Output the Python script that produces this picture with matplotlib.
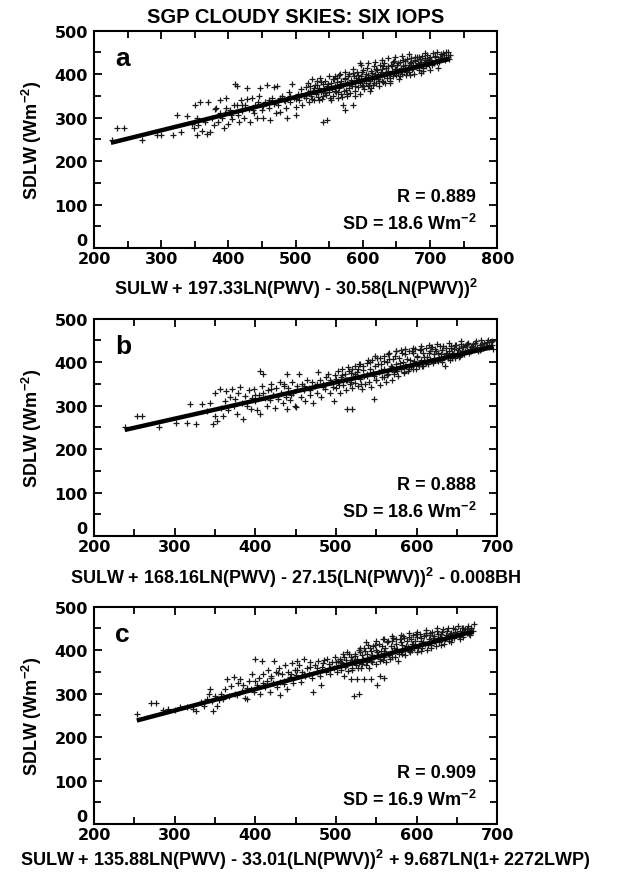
import numpy as np
import matplotlib.pyplot as plt
from matplotlib.ticker import MultipleLocator, FuncFormatter

# values (x = regression predictor, y = SDLW, W m-2)
a_points = [
    (226, 248), (234, 275), (244, 276), (271, 248), (293, 261), (300, 259), (317, 259), (323, 305),
    (338, 304), (330, 268), (345, 285), (348, 275), (350, 328), (353, 298), (353, 259), (355, 282),
    (358, 335), (360, 270), (365, 290), (368, 262), (370, 336), (373, 267), (376, 300), (378, 282),
    (380, 320), (382, 321), (385, 290), (387, 340), (390, 300), (393, 276), (395, 310), (397, 344),
    (400, 285), (402, 318), (405, 296), (408, 330), (410, 378), (412, 373), (414, 305), (416, 290),
    (418, 340), (420, 315), (423, 300), (425, 330), (427, 367), (430, 320), (432, 290), (435, 345),
    (438, 310), (440, 328), (443, 300), (445, 350), (447, 367), (450, 318), (452, 298), (455, 335),
    (457, 375), (460, 322), (462, 294), (465, 345), (467, 371), (470, 310), (472, 373), (474, 330),
    (477, 313), (480, 350), (482, 340), (485, 322), (487, 298), (490, 360), (492, 335), (495, 378),
    (497, 345), (500, 325), (501, 305), (503, 355), (505, 340), (508, 365), (510, 330), (512, 350),
    (515, 370), (516, 345), (518, 380), (519, 360), (520, 335), (522, 372), (523, 350), (525, 388),
    (526, 362), (527, 340), (529, 375), (530, 355), (531, 385), (533, 348), (534, 368), (536, 392),
    (537, 358), (539, 343), (540, 378), (541, 290), (542, 365), (544, 385), (545, 352), (546, 294),
    (547, 372), (549, 360), (550, 395), (551, 345), (553, 380), (554, 366), (556, 350), (557, 390),
    (558, 372), (560, 358), (561, 382), (563, 345), (564, 398), (565, 368), (567, 355), (568, 385),
    (570, 375), (571, 330), (572, 362), (573, 317), (574, 392), (576, 350), (577, 380), (579, 368),
    (580, 400), (581, 357), (583, 386), (584, 372), (586, 330), (587, 395), (588, 362), (589, 380),
    (591, 405), (592, 370), (594, 388), (595, 355), (596, 425), (597, 395), (599, 376), (600, 410),
    (601, 365), (603, 392), (604, 380), (606, 415), (607, 372), (608, 398), (610, 385), (611, 362),
    (612, 408), (614, 392), (615, 375), (617, 418), (618, 400), (619, 380), (621, 410), (622, 390),
    (624, 372), (625, 420), (626, 398), (628, 385), (629, 412), (631, 395), (632, 425), (633, 380),
    (635, 405), (636, 392), (638, 418), (639, 400), (641, 385), (642, 422), (643, 408), (645, 395),
    (646, 430), (648, 412), (649, 398), (651, 420), (652, 405), (654, 390), (655, 428), (656, 415),
    (658, 400), (659, 432), (661, 410), (662, 422), (664, 398), (665, 435), (667, 415), (668, 405),
    (670, 425), (671, 438), (673, 412), (674, 420), (676, 400), (677, 432), (679, 418), (680, 440),
    (682, 425), (683, 410), (685, 435), (686, 420), (688, 442), (689, 408), (691, 428), (692, 438),
    (694, 418), (695, 445), (697, 430), (698, 422), (700, 440), (702, 432), (704, 448), (706, 425),
    (708, 440), (710, 452), (712, 435), (714, 428), (716, 446), (718, 438), (720, 444), (722, 432),
    (724, 450), (726, 440), (728, 436), (730, 445),
    (521, 362), (524, 343), (528, 368), (532, 376), (535, 340), (538, 382), (543, 356), (548, 378),
    (552, 371), (555, 388), (559, 362), (562, 392), (566, 378), (569, 348), (573, 388), (575, 364),
    (578, 396), (582, 378), (585, 403), (588, 372), (590, 392), (593, 398), (596, 380), (598, 406),
    (602, 386), (605, 400), (609, 376), (613, 402), (616, 388), (620, 412), (623, 398), (627, 405),
    (630, 382), (634, 415), (637, 408), (640, 392), (644, 418), (647, 402), (650, 412), (653, 425),
    (657, 408), (660, 418), (663, 430), (666, 405), (669, 420), (672, 428), (675, 415), (678, 430),
    (681, 418), (684, 440), (687, 428), (690, 415), (693, 432), (696, 425), (699, 435), (703, 420),
    (707, 442), (711, 428), (715, 440), (719, 448), (723, 438), (727, 452), (558, 395), (566, 400),
    (574, 405), (585, 412), (597, 420), (607, 425), (618, 428), (628, 432), (638, 438), (648, 440),
    (658, 442), (668, 446), (600, 372), (612, 368), (624, 385), (640, 380), (655, 395), (670, 398),
    (686, 402), (700, 410), (712, 415), (540, 350), (552, 340), (563, 360), (577, 355), (588, 350),
    (617, 380), (630, 418), (645, 428), (677, 440), (692, 448), (420, 330), (428, 342), (436, 318),
    (444, 335), (452, 326), (460, 340), (468, 332), (476, 345), (484, 338), (492, 350), (500, 342),
    (508, 352), (396, 322), (404, 305), (412, 330), (388, 310),
]
b_points = [
    (238, 250), (253, 275), (259, 277), (280, 250), (301, 261), (315, 261), (319, 304), (326, 258),
    (334, 304), (340, 288), (344, 307), (348, 258), (350, 277), (350, 330), (353, 265), (356, 338),
    (358, 295), (360, 277), (362, 310), (364, 334), (366, 290), (368, 320), (371, 338), (373, 300),
    (375, 315), (377, 281), (379, 330), (381, 342), (383, 305), (385, 269), (387, 322), (390, 300),
    (392, 335), (394, 292), (396, 318), (398, 338), (400, 310), (402, 290), (404, 325), (406, 380),
    (406, 281), (408, 345), (410, 372), (412, 318), (414, 300), (416, 335), (418, 312), (420, 350),
    (422, 325), (424, 295), (426, 340), (428, 315), (430, 355), (432, 330), (434, 305), (436, 345),
    (438, 320), (439, 372), (439, 292), (441, 340), (443, 312), (445, 355), (447, 330), (449, 300),
    (451, 296), (452, 345), (454, 372), (456, 320), (458, 350), (460, 335), (462, 310), (464, 360),
    (466, 340), (468, 325), (470, 355), (472, 307), (474, 345), (476, 330), (478, 378), (480, 360),
    (482, 320), (484, 350), (486, 338), (488, 365), (490, 372), (492, 330), (494, 355), (496, 342),
    (497, 311), (499, 370), (500, 340), (502, 380), (503, 355), (505, 330), (506, 365), (508, 385),
    (509, 348), (511, 372), (512, 335), (514, 360), (514, 292), (515, 388), (517, 350), (518, 375),
    (520, 292), (520, 340), (521, 365), (523, 390), (524, 352), (526, 378), (527, 345), (529, 395),
    (530, 362), (532, 338), (533, 382), (535, 368), (536, 350), (538, 398), (539, 372), (541, 355),
    (542, 385), (544, 342), (545, 405), (547, 315), (547, 368), (548, 390), (550, 358), (551, 410),
    (553, 378), (554, 348), (556, 395), (557, 365), (559, 415), (560, 385), (562, 355), (563, 400),
    (565, 372), (566, 420), (568, 390), (569, 360), (571, 408), (572, 378), (574, 425), (575, 395),
    (577, 368), (578, 410), (580, 385), (581, 428), (583, 400), (584, 375), (586, 418), (587, 392),
    (589, 380), (590, 425), (592, 405), (593, 388), (595, 420), (596, 398), (598, 430), (599, 385),
    (601, 412), (602, 395), (604, 428), (605, 405), (607, 390), (608, 422), (610, 400), (611, 432),
    (613, 412), (614, 395), (616, 425), (617, 408), (619, 435), (620, 398), (622, 418), (623, 430),
    (625, 405), (626, 422), (628, 410), (629, 436), (631, 400), (632, 428), (634, 415), (635, 392),
    (637, 432), (638, 418), (640, 425), (641, 405), (643, 438), (644, 420), (646, 430), (647, 410),
    (649, 440), (650, 422), (652, 432), (653, 412), (655, 442), (656, 425), (658, 435), (659, 418),
    (661, 440), (662, 428), (664, 445), (665, 420), (667, 435), (668, 428), (670, 442), (672, 432),
    (674, 448), (676, 425), (678, 440), (680, 450), (682, 432), (684, 445), (686, 438), (688, 452),
    (690, 435), (692, 446), (694, 440), (695, 430),
    (500, 362), (504, 348), (508, 370), (512, 360), (516, 380), (519, 355), (523, 372), (527, 385),
    (531, 350), (534, 392), (538, 368), (542, 400), (546, 378), (549, 360), (552, 395), (556, 382),
    (559, 402), (563, 370), (566, 408), (570, 388), (573, 415), (576, 380), (579, 398), (582, 420),
    (585, 392), (588, 408), (591, 385), (594, 425), (597, 402), (600, 415), (603, 390), (606, 430),
    (609, 412), (612, 398), (615, 420), (618, 435), (621, 410), (624, 425), (627, 402), (630, 418),
    (633, 438), (636, 422), (639, 410), (642, 432), (645, 418), (648, 440), (651, 428), (654, 415),
    (657, 438), (660, 425), (663, 442), (666, 430), (669, 438), (672, 445), (675, 435), (678, 428),
    (681, 442), (684, 436), (687, 446), (690, 440), (693, 448), (555, 410), (565, 418), (575, 425),
    (585, 430), (595, 432), (605, 438), (615, 440), (625, 442), (640, 445), (655, 448), (560, 365),
    (572, 372), (584, 378), (596, 385), (608, 392), (620, 400), (632, 405), (644, 410), (656, 418),
    (668, 425), (680, 430), (520, 385), (530, 395), (540, 405), (548, 415), (420, 338), (428, 322),
    (436, 350), (444, 325), (452, 338), (460, 345), (468, 335), (476, 350), (484, 342), (492, 358),
    (410, 330), (400, 325),
]
c_points = [
    (253, 253), (270, 278), (277, 278), (285, 262), (292, 265), (300, 263), (307, 268), (315, 270),
    (323, 265), (327, 261), (332, 280), (336, 272), (340, 288), (342, 300), (344, 311), (346, 282),
    (348, 261), (350, 295), (352, 272), (355, 285), (358, 300), (360, 288), (362, 310), (365, 334),
    (367, 295), (370, 318), (373, 338), (375, 300), (377, 296), (379, 325), (381, 334), (383, 305),
    (385, 319), (387, 290), (390, 288), (392, 330), (394, 310), (396, 345), (398, 304), (400, 380),
    (402, 320), (404, 335), (406, 300), (408, 374), (410, 345), (412, 315), (414, 330), (416, 355),
    (418, 304), (420, 340), (422, 325), (423, 376), (425, 350), (427, 315), (429, 360), (431, 327),
    (431, 296), (433, 345), (435, 330), (437, 365), (439, 311), (441, 350), (443, 338), (445, 370),
    (447, 325), (449, 355), (451, 342), (452, 376), (454, 365), (456, 327), (458, 350), (460, 380),
    (462, 340), (464, 360), (466, 345), (468, 372), (470, 335), (472, 304), (474, 365), (476, 350),
    (478, 375), (480, 340), (481, 319), (483, 362), (485, 378), (487, 350), (489, 380), (491, 368),
    (493, 345), (495, 372), (497, 358), (499, 385), (501, 350), (503, 375), (505, 380), (506, 355),
    (508, 370), (509, 390), (510, 341), (511, 362), (513, 378), (514, 395), (515, 352), (517, 372),
    (518, 333), (519, 385), (520, 360), (522, 294), (522, 375), (523, 392), (525, 365), (526, 333),
    (526, 380), (528, 298), (528, 400), (529, 370), (531, 358), (532, 388), (534, 375), (535, 333),
    (535, 405), (537, 418), (537, 365), (538, 392), (540, 380), (541, 360), (543, 333), (543, 398),
    (544, 375), (546, 410), (547, 385), (549, 368), (550, 400), (551, 319), (552, 388), (553, 415),
    (555, 341), (555, 375), (556, 398), (558, 425), (559, 337), (559, 385), (561, 405), (562, 372),
    (564, 420), (565, 392), (567, 380), (568, 410), (570, 398), (571, 428), (573, 385), (574, 415),
    (576, 402), (577, 375), (579, 425), (580, 395), (582, 412), (583, 432), (585, 400), (586, 388),
    (588, 420), (589, 408), (591, 430), (592, 395), (594, 415), (595, 435), (597, 405), (598, 422),
    (600, 395), (601, 430), (603, 412), (604, 438), (606, 420), (607, 405), (609, 432), (610, 415),
    (612, 440), (613, 400), (615, 425), (616, 435), (618, 412), (619, 442), (621, 420), (622, 432),
    (624, 410), (625, 445), (627, 428), (628, 418), (630, 438), (631, 425), (633, 448), (634, 415),
    (636, 435), (637, 428), (639, 450), (640, 420), (642, 440), (643, 432), (645, 452), (646, 428),
    (648, 442), (649, 435), (651, 455), (652, 432), (654, 445), (655, 438), (657, 450), (658, 430),
    (660, 448), (662, 440), (664, 455), (666, 442), (668, 450), (670, 445), (671, 460),
    (506, 372), (510, 385), (513, 365), (516, 392), (520, 378), (524, 386), (527, 360), (530, 395),
    (533, 380), (536, 398), (539, 372), (542, 405), (545, 388), (548, 412), (551, 395), (554, 380),
    (557, 410), (560, 398), (563, 418), (566, 388), (569, 420), (572, 405), (575, 425), (578, 392),
    (581, 418), (584, 428), (587, 410), (590, 398), (593, 425), (596, 415), (599, 438), (602, 405),
    (605, 428), (608, 418), (611, 435), (614, 412), (617, 440), (620, 428), (623, 420), (626, 438),
    (629, 430), (632, 442), (635, 425), (638, 445), (641, 436), (644, 428), (647, 448), (650, 440),
    (653, 432), (656, 450), (659, 442), (662, 448), (665, 438), (668, 452), (530, 405), (540, 412),
    (550, 420), (560, 425), (570, 432), (580, 435), (590, 440), (600, 442), (612, 446), (625, 450),
    (520, 355), (532, 368), (545, 372), (558, 378), (570, 385), (582, 392), (594, 400), (606, 398),
    (618, 405), (630, 412), (642, 418), (654, 425), (666, 435), (420, 335), (428, 348), (436, 322),
    (444, 345), (452, 355), (460, 345), (468, 362), (476, 358), (484, 370), (492, 360), (500, 372),
    (410, 325), (400, 330), (390, 312),
]

# regression line end points
a_fit = [(225, 242), (729, 435)]
b_fit = [(238, 244), (695, 435)]
c_fit = [(253, 238), (670, 443)]

letters = ['a', 'b', 'c']
x_limits = [(200, 800), (200, 700), (200, 700)]
r_text = ['R = 0.889', 'R = 0.888', 'R = 0.909']
sd_text = ['SD = 18.6 Wm$^{\\mathbf{-2}}$', 'SD = 18.6 Wm$^{\\mathbf{-2}}$', 'SD = 16.9 Wm$^{\\mathbf{-2}}$']
x_labels = [
    'SULW + 197.33LN(PWV) - 30.58(LN(PWV))$^{\\mathbf{2}}$',
    'SULW + 168.16LN(PWV) - 27.15(LN(PWV))$^{\\mathbf{2}}$ - 0.008BH',
    'SULW + 135.88LN(PWV) - 33.01(LN(PWV))$^{\\mathbf{2}}$ + 9.687LN(1+ 2272LWP)',
]

plt.rcParams['font.family'] = ['Liberation Sans', 'DejaVu Sans']
plt.rcParams['font.weight'] = 'bold'
plt.rcParams['mathtext.fontset'] = 'custom'
plt.rcParams['mathtext.rm'] = 'Liberation Sans:bold'
plt.rcParams['mathtext.bf'] = 'Liberation Sans:bold'

fig = plt.figure(figsize=(6.4, 8.78), dpi=100)

bottoms = [0.7164, 0.3884, 0.0604]
label_x = [0.4625, 0.4625, 0.477]
label_y = [0.6644, 0.335, 0.0135]

# y tick labels; the "0" is drawn separately, just above the corner
ylab_fmt = FuncFormatter(lambda v, pos: '' if v == 0 else '%d' % v)

data = [(a_points, a_fit), (b_points, b_fit), (c_points, c_fit)]
for i, (pts, fit) in enumerate(data):
    ax = fig.add_axes([0.147, bottoms[i], 0.630, 0.2475])
    pts = np.array(pts)
    fit = np.array(fit)
    ax.plot(pts[:, 0], pts[:, 1], '+', color='#1a1a1a', ms=5, mew=0.9)
    ax.plot(fit[:, 0], fit[:, 1], color='black', lw=3.2, solid_capstyle='butt')
    ax.set_xlim(*x_limits[i])
    ax.set_ylim(0, 500)
    ax.xaxis.set_major_locator(MultipleLocator(100))
    ax.xaxis.set_minor_locator(MultipleLocator(50))
    ax.yaxis.set_major_locator(MultipleLocator(100))
    ax.yaxis.set_minor_locator(MultipleLocator(50))
    ax.yaxis.set_major_formatter(ylab_fmt)
    ax.tick_params(which='both', direction='in', top=True, right=True, width=1.3)
    ax.tick_params(which='major', length=6, labelsize=11.5, labelfontfamily='DejaVu Sans')
    ax.tick_params(which='minor', length=5)
    ax.tick_params(axis='x', which='major', pad=2.5)
    ax.tick_params(axis='y', which='major', pad=4.5)
    ax.text(-0.016, 0, '0', transform=ax.get_yaxis_transform(), fontsize=11.5,
            family='DejaVu Sans', ha='right', va='bottom')
    for s in ax.spines.values():
        s.set_linewidth(1.5)
    ax.set_ylabel('SDLW (Wm$^{\\mathbf{-2}}$)', fontsize=13, fontweight='bold')
    ax.yaxis.set_label_coords(-0.125, 0.5)
    ax.text(0.052, 0.842, letters[i], transform=ax.transAxes, fontsize=19, va='baseline')
    ax.text(0.948, 0.218, r_text[i], transform=ax.transAxes, fontsize=13, ha='right', va='baseline')
    ax.text(0.948, 0.088, sd_text[i], transform=ax.transAxes, fontsize=13, ha='right', va='baseline')
    fig.text(label_x[i], label_y[i], x_labels[i], fontsize=13, ha='center', va='baseline')

fig.text(0.4625, 0.974, 'SGP CLOUDY SKIES: SIX IOPS', fontsize=14.5, ha='center', va='baseline')

plt.savefig('out.png', dpi=100)
